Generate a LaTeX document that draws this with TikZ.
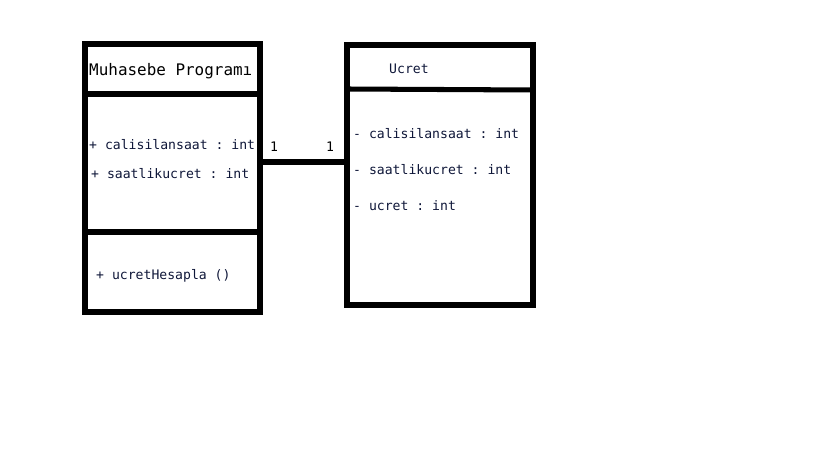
\documentclass[tikz,border=0pt]{standalone}
\usepackage{fontspec}
\setmonofont{DejaVu Sans Mono}
\usepackage{xcolor}
\usepackage{tikz}
\usetikzlibrary{calc}
\definecolor{txtcol}{RGB}{14,22,56}

\begin{document}
\begin{tikzpicture}[x=0.03cm,y=-0.03cm,
		box/.style={line width=4.3pt,line cap=rect},
		attr/.style={anchor=west,inner sep=0pt,text=txtcol,font=\ttfamily\fontsize{11.2}{13}\selectfont},
		title/.style={anchor=west,inner sep=0pt,text=black,font=\ttfamily\fontsize{13.6}{16}\selectfont}]
		\useasboundingbox (0,0) rectangle (819,460);
		% Muhasebe Programi
		\draw[box] (85,44) rectangle (260,312);
		\draw[box] (85,94)--(260,94);
		\draw[box] (85,232)--(260,232);
		\node[title] (mp) at (89,71) {Muhasebe Programı};
		\node[attr] (mpa1) at (89,145) {+ calisilansaat : int};
		\node[attr] (mpa2) at (91,174) {+ saatlikucret : int};
		\node[attr] (mpm1) at (96,276) {+ ucretHesapla ()};
		% Ucret
		\draw[box] (347,45) rectangle (533,305);
		\draw[box] (347,89)--(533,90);
		\node[attr] (uc) at (389,69) {Ucret};
		\node[attr] (uca1) at (353,134) {- calisilansaat : int};
		\node[attr] (uca2) at (353,170) {- saatlikucret : int};
		\node[attr] (uca3) at (353,206) {- ucret : int};
		% iliski
		\coordinate (l) at (260,162);
		\coordinate (r) at (347,162);
		\draw[box] (l)--(r);
		\node[attr,text=black] (m1) at (270,147) {1};
		\node[attr,text=black] (m2) at (326,147) {1};
	\end{tikzpicture}
\end{document}
